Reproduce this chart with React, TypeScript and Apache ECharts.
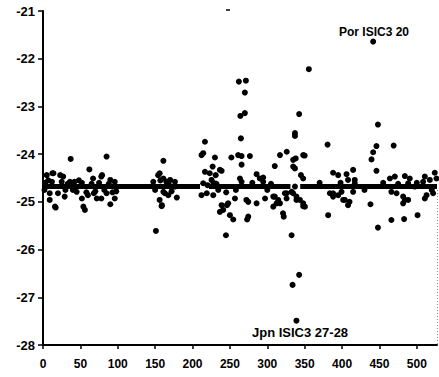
import React, { useEffect, useRef } from "react";
import * as echarts from "echarts";

const yTicks = [-28, -27, -26, -25, -24, -23, -22, -21];
const xTickStep = 50;
const xMax = 527;

const bandLevel = -24.68;
const bandStartX = [1, 222, 344];
const bandEndX = [210, 331, 527];

const pointsLeft: number[][] = [
  [3, -24.6], [2, -24.75], [5, -24.44], [7, -24.55], [9, -24.82], [9, -24.96], [12, -24.58], [12.5, -24.4],
  [14, -24.4], [16, -25.1], [17, -25.12], [20, -24.82], [23, -24.44], [25, -24.58], [27, -24.47], [29, -24.89],
  [30, -24.75], [33, -24.62], [36, -24.58], [37, -24.1], [40, -24.75], [42, -24.58], [45, -24.79], [48, -24.55],
  [52, -24.6], [52, -24.93], [54, -25.1], [56, -25.17], [58, -24.8], [60, -24.86], [62, -24.32], [65, -24.62],
  [67, -24.51], [68, -24.82], [70, -24.78], [72, -24.93], [75, -24.6], [78, -24.47], [78, -24.93], [79, -24.44],
  [82, -24.75], [85, -24.05], [85, -24.82], [88, -24.62], [90, -24.54], [90, -25.05], [93, -24.8], [96, -24.58],
  [96, -24.93], [98, -24.78],
];

const pointsMid1: number[][] = [
  [147.5, -24.58], [150, -24.75], [151, -25.61], [154, -24.44], [156, -24.4], [156, -24.96], [157, -24.55],
  [158.7, -25.09], [159, -25.07], [161, -24.14], [161, -24.51], [161, -24.79], [163, -24.82], [165, -24.58],
  [167.5, -24.86], [168, -24.62], [170, -24.54], [172, -24.78], [176.5, -24.58], [176.5, -24.68], [179, -24.91],
];

const pointsMid2: number[][] = [
  [212, -24.02], [214.3, -23.98], [216.6, -23.74], [212, -24.86], [214.3, -24.61], [216.6, -24.37],
  [219, -24.82], [220, -24.65], [223, -24.4], [225.5, -24.54], [226.9, -24.26], [227.7, -24.86], [228, -24.6],
  [230, -24.07], [231, -24.44], [232, -24.62], [234.4, -24.75], [236.6, -24.33], [236.6, -25.21], [238.9, -24.35],
  [238.9, -25.07], [241, -25.17], [244.7, -25.7], [245, -24.8], [246, -25.07], [247.7, -25.03], [250, -25.28],
  [252, -24.07], [254.5, -25.37], [256.7, -24.93], [258, -24.75], [261, -24.02], [262, -22.48], [263.4, -24.51],
  [264, -23.2], [264.7, -23.67], [265.6, -24.04], [265.6, -24.22], [265.6, -24.58], [270, -22.71], [270, -23.14],
  [271.4, -22.46], [272, -24.96], [273, -25.37], [274.5, -25.31], [274.5, -25.0], [276.7, -24.04], [280, -24.6],
  [285.7, -24.42], [285.7, -25.03], [290, -24.51], [294.5, -24.49], [294.5, -24.58], [297, -24.93], [300, -24.75],
  [305, -24.62], [308, -24.89], [308, -25.1], [310, -24.25], [310, -24.89], [312.4, -25.03], [314.6, -24.96],
  [317, -24.02], [317, -25.03], [321, -25.24], [322, -25.31], [323.5, -24.82], [325.8, -24.93], [326, -23.95],
  [326, -24.82],
];

const pointsMid3: number[][] = [
  [332.5, -25.7], [332.5, -24.79], [333.8, -26.74], [334.6, -24.12], [334.6, -24.26], [334.6, -24.82],
  [337, -23.56], [337, -23.62], [337, -24.3], [337, -24.68], [338, -24.09], [339, -27.49], [339, -24.96],
  [339, -24.89], [342.6, -26.53], [342.6, -23.16], [343.6, -24.96], [345, -24.44], [348, -24.02], [348, -24.51],
  [348, -25.03], [348, -25.09], [350, -24.03], [350.3, -25.1], [355.6, -22.22],
];

const pointsRight: number[][] = [
  [370, -24.6], [380.6, -23.8], [381.4, -25.28], [383.7, -24.82], [388, -24.39], [388, -24.82], [388, -24.89],
  [394.8, -24.44], [394.8, -24.86], [398, -24.6], [399.3, -24.79], [401.5, -24.96], [403.7, -24.96], [406, -24.42],
  [408, -24.54], [408, -25.07], [410, -25.0], [414.8, -24.33], [414.8, -24.79], [417, -24.54], [417, -24.61],
  [430, -24.75], [438, -25.05], [439.4, -24.11], [441.6, -21.64], [441.6, -23.96], [446, -23.83], [446, -24.35],
  [448, -23.38], [448, -25.54], [455, -24.6], [464, -24.51], [466, -24.79], [466, -25.38], [469, -23.82],
  [470.6, -24.47], [472.9, -24.82], [475, -24.62], [481.7, -24.89], [481.7, -25.03], [483, -25.36], [484, -24.46],
  [484, -24.96], [488.4, -24.96], [488.4, -24.61], [490.6, -24.51], [497.3, -24.68], [500, -24.6], [501, -25.28],
  [508.4, -24.58], [510.7, -24.47], [510.7, -24.93], [513, -24.86], [517.4, -24.54], [520, -24.75], [521.8, -24.82],
  [524, -24.39], [526.3, -24.51],
];

const labelTop = "Por ISIC3 20";
const labelBottom = "Jpn ISIC3 27-28";

export default function App() {
  const ref = useRef<HTMLDivElement>(null);
  useEffect(() => {
    if (!ref.current) return;
    const chart = echarts.init(ref.current, undefined, { renderer: "svg" });
    const font = "'Liberation Sans', Arial, sans-serif";
    const allPoints = [...pointsLeft, ...pointsMid1, ...pointsMid2, ...pointsMid3, ...pointsRight];
    const bandSeries = bandStartX.map((s, i) => ({
      type: "line",
      data: [[s, bandLevel], [bandEndX[i], bandLevel]],
      showSymbol: false,
      symbol: "none",
      lineStyle: { color: "#000", width: 5 },
      silent: true,
      z: 2,
    }));
    chart.setOption({
      animation: false,
      backgroundColor: "#fff",
      grid: { left: 43, right: 2, top: 11, bottom: 32, containLabel: false },
      xAxis: {
        type: "value",
        min: 0,
        max: xMax,
        interval: xTickStep,
        axisLine: { show: true, onZero: false, lineStyle: { color: "#000", width: 2 } },
        axisTick: { show: true, length: 4, lineStyle: { color: "#000", width: 1.5 } },
        axisLabel: {
          color: "#000",
          fontFamily: font,
          fontWeight: "bold",
          fontSize: 12,
          margin: 13,
          showMaxLabel: false,
        },
        splitLine: { show: false },
      },
      yAxis: {
        type: "value",
        min: yTicks[0],
        max: yTicks[yTicks.length - 1],
        interval: 1,
        axisLine: { show: true, onZero: false, lineStyle: { color: "#000", width: 2 } },
        axisTick: { show: true, length: 5, lineStyle: { color: "#000", width: 1.5 } },
        axisLabel: {
          color: "#000",
          fontFamily: font,
          fontWeight: "bold",
          fontSize: 13,
          margin: 8,
        },
        splitLine: { show: false },
      },
      series: [
        ...bandSeries,
        {
          type: "scatter",
          data: allPoints,
          symbol: "circle",
          symbolSize: 6,
          itemStyle: { color: "#000", opacity: 1 },
          z: 3,
        },
      ],
      graphic: [
        {
          type: "text",
          left: 339,
          top: 26,
          style: { text: labelTop, fill: "#000", font: `bold 12px ${font}` },
        },
        {
          type: "text",
          left: 252,
          top: 326,
          style: { text: labelBottom, fill: "#000", font: `bold 13px ${font}` },
        },
        {
          type: "line",
          shape: { x1: 437.5, y1: 190, x2: 437.5, y2: 344 },
          style: { stroke: "#888", lineWidth: 1, lineDash: [1, 2] },
        },
        {
          type: "line",
          shape: { x1: 226, y1: 10, x2: 230, y2: 10 },
          style: { stroke: "#000", lineWidth: 1.5 },
        },
      ],
    });
    return () => chart.dispose();
  }, []);
  return (
    <div
      ref={ref}
      style={{ position: "fixed", left: 0, top: 0, width: 439, height: 377, background: "#fff" }}
    />
  );
}
